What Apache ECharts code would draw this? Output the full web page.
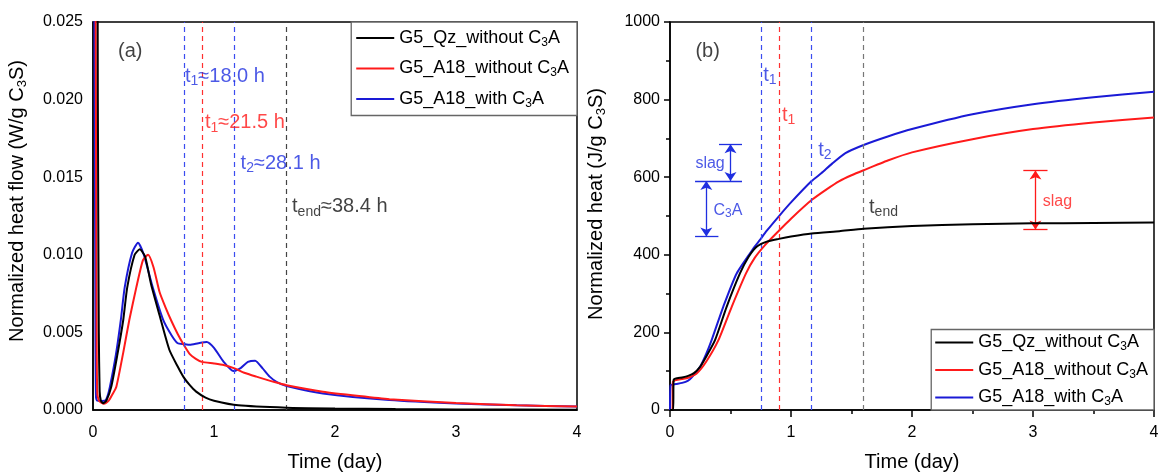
<!DOCTYPE html>
<html><head><meta charset="utf-8">
<script src="https://cdn.jsdelivr.net/npm/echarts@6/dist/echarts.min.js"></script>
<style>html,body{margin:0;padding:0;background:#fff}#c{width:1159px;height:472px}</style>
</head><body><div id="c"></div>
<script>
// ---------------- data ----------------
const seriesNames = ['G5_Qz_without C3A', 'G5_A18_without C3A', 'G5_A18_with C3A'];
const seriesColors = ['#000000', '#ff1a1a', '#1a1ad6'];

// panel (a): normalized heat flow (W/g C3S) vs time (day)
const flowQz = [[0.0,0.06],[0.03,0.05],[0.04,0.02],[0.048,0.005],[0.055,0.0012],[0.065,0.0006],[0.083,0.00043],[0.11,0.0006],[0.151,0.0015],[0.2,0.0035],[0.25,0.0058],[0.283,0.0079],[0.344,0.0100],[0.386,0.01035],[0.43,0.0099],[0.48,0.0081],[0.55,0.0061],[0.63,0.0039],[0.7,0.0028],[0.75,0.0021],[0.8,0.0016],[0.85,0.0012],[0.93,0.0008],[1.0,0.0006],[1.2,0.0003],[1.6,0.00015],[2.0,0.0001],[2.5,0.00006],[3.0,0.00004],[4.0,0.00002]];
const flowA18Without = [[0.0,0.05],[0.022,0.025],[0.03,0.005],[0.035,0.0012],[0.05,0.0006],[0.09,0.0004],[0.13,0.0006],[0.16,0.0010],[0.193,0.0015],[0.25,0.0037],[0.3,0.0058],[0.358,0.0079],[0.413,0.00966],[0.455,0.0100],[0.5,0.0092],[0.55,0.0076],[0.6,0.0066],[0.65,0.0057],[0.7,0.0049],[0.75,0.0042],[0.8,0.0036],[0.85,0.0033],[0.9,0.0031],[1.0,0.0030],[1.08,0.0029],[1.17,0.00268],[1.25,0.0024],[1.35,0.00215],[1.5,0.0018],[1.6,0.0016],[1.9,0.00118],[2.2,0.0009],[2.45,0.0007],[3.0,0.00045],[3.5,0.0003],[4.0,0.00022]];
const flowA18With = [[0.0,0.05],[0.012,0.025],[0.02,0.005],[0.025,0.0008],[0.035,0.0006],[0.07,0.00058],[0.1,0.0006],[0.12,0.0009],[0.14,0.0015],[0.19,0.0036],[0.23,0.0058],[0.262,0.0079],[0.322,0.0101],[0.372,0.01078],[0.42,0.0100],[0.49,0.0080],[0.58,0.0058],[0.65,0.0048],[0.7,0.0043],[0.75,0.00425],[0.8,0.0042],[0.87,0.0043],[0.94,0.00438],[1.0,0.0040],[1.08,0.0031],[1.16,0.00251],[1.22,0.0027],[1.28,0.0031],[1.34,0.00318],[1.4,0.0027],[1.46,0.00215],[1.52,0.0018],[1.6,0.00155],[1.9,0.00107],[2.45,0.00064],[3.0,0.00042],[3.5,0.0003],[4.0,0.00022]];

// panel (b): normalized heat (J/g C3S) vs time (day)
const heatQz = [[0.0,0],[0.026,0],[0.03,78],[0.06,82],[0.1,84],[0.15,88],[0.198,95],[0.25,112],[0.3,138],[0.372,180],[0.468,266],[0.578,352],[0.65,395],[0.716,421],[0.8,434],[0.9,441],[1.0,447],[1.17,455],[1.4,461],[1.6,467],[2.0,474],[2.5,479],[3.0,481],[3.5,482],[4.0,483]];
const heatA18Without = [[0.0,0],[0.02,0],[0.024,73],[0.05,77],[0.1,80],[0.15,83],[0.22,94],[0.3,125],[0.4,180],[0.51,266],[0.628,352],[0.7,392],[0.785,425],[0.9,462],[1.0,493],[1.17,541],[1.3,570],[1.4,590],[1.5,605],[1.6,618],[1.8,643],[2.0,664],[2.5,698],[3.0,724],[3.5,741],[4.0,754]];
const heatA18With = [[0.0,0],[0.005,64],[0.05,67],[0.1,70],[0.15,76],[0.18,84],[0.25,112],[0.3,145],[0.344,180],[0.44,266],[0.551,352],[0.7,421],[0.74,437],[0.8,462],[0.91,503],[1.0,535],[1.17,590],[1.25,610],[1.34,635],[1.45,662],[1.6,683],[1.8,705],[2.0,724],[2.5,762],[3.0,788],[3.5,806],[4.0,820]];

// characteristic times (day): t1 with C3A = 18.0 h, t1 without = 21.5 h, t2 = 28.1 h, tend = 38.4 h
const markTimes = [18.0/24, 21.5/24, 28.1/24, 38.4/24];
const markColorsA = ['#3b4cf0', '#ff3030', '#3b4cf0', '#444444'];
const markColorsB = ['#3b4cf0', '#ff3030', '#3b4cf0', '#777777'];

// tick labels
const xTickLabels = ['0', '1', '2', '3', '4'];
const yTickLabelsA = ['0.000', '0.005', '0.010', '0.015', '0.020', '0.025'];
const yTickLabelsB = ['0', '200', '400', '600', '800', '1000'];

// text annotations: [x (day), y (value), rich text]
const notesA = [
  [0.207, 0.0231, '{k|(a)}'],
  [0.76, 0.0215, '{b|t}{bs|1}{b|≈18.0 h}'],
  [0.925, 0.0185, '{r|t}{rs|1}{r|≈21.5 h}'],
  [1.22, 0.0159, '{b|t}{bs|2}{b|≈28.1 h}'],
  [1.645, 0.0131, '{k|t}{ks|end}{k|≈38.4 h}']
];
const notesB = [
  [0.21, 923, '{k|(b)}'],
  [0.77, 863, '{b|t}{bs|1}'],
  [0.925, 760, '{r|t}{rs|1}'],
  [1.225, 670, '{b|t}{bs|2}'],
  [1.645, 523, '{k|t}{ks|end}'],
  [0.21, 636, '{b2|slag}'],
  [0.36, 515, '{b2|C}{b2s|3}{b2|A}'],
  [3.08, 536, '{r2|slag}']
];
// bracket lines in panel (b): [x1, y1, x2, y2, color, arrows?]
const bracketsB = [
  [0.405, 685, 0.595, 685, 'blue', false],
  [0.207, 590, 0.595, 590, 'blue', false],
  [0.207, 447, 0.40, 447, 'blue', false],
  [0.50, 590, 0.50, 685, 'blue', true],
  [0.30, 447, 0.30, 590, 'blue', true],
  [2.92, 617, 3.12, 617, 'red', false],
  [2.92, 465, 3.12, 465, 'red', false],
  [3.02, 465, 3.02, 617, 'red', true]
];

// ---------------- chart ----------------
const FONT = '"Liberation Sans", Arial, sans-serif';
const chart = echarts.init(document.getElementById('c'), null, {renderer: 'canvas'});

const rich = {
  k: {color: '#111', fontSize: 20, fontFamily: FONT},
  ks: {color: '#111', fontSize: 14, fontFamily: FONT, padding: [10, 0, 0, 0]},
  b: {color: '#1f2fe0', fontSize: 20, fontFamily: FONT},
  bs: {color: '#1f2fe0', fontSize: 14, fontFamily: FONT, padding: [10, 0, 0, 0]},
  r: {color: '#ff1a1a', fontSize: 20, fontFamily: FONT},
  rs: {color: '#ff1a1a', fontSize: 14, fontFamily: FONT, padding: [10, 0, 0, 0]},
  b2: {color: '#1f2fe0', fontSize: 16, fontFamily: FONT},
  b2s: {color: '#1f2fe0', fontSize: 12, fontFamily: FONT, padding: [8, 0, 0, 0]},
  r2: {color: '#ff1a1a', fontSize: 16, fontFamily: FONT}
};
const nameRich = {
  n: {fontSize: 20, fontFamily: FONT, color: '#000'},
  s: {fontSize: 13, fontFamily: FONT, color: '#000', padding: [10, 0, 0, 0]}
};
const legendRich = {
  n: {fontSize: 18, fontFamily: FONT, color: '#000'},
  s: {fontSize: 12, fontFamily: FONT, color: '#000', padding: [9, 0, 0, 0]}
};
function legendFmt(name) {
  return '{n|' + name.replace('C3A', 'C}{s|3}{n|A') + '}';
}

function vLines(colors) {
  return {
    silent: true, symbol: 'none', label: {show: false},
    data: markTimes.map((t, i) => ({xAxis: t, lineStyle: {color: colors[i], type: [5, 4], width: 1.2}}))
  };
}

function noteSeries(notes, xi) {
  return {
    type: 'scatter', xAxisIndex: xi, yAxisIndex: xi, silent: true, symbolSize: 0,
    z: 10,
    data: notes.map(n => ({value: [n[0], n[1]], label: {show: true, position: 'right', distance: 0, formatter: n[2], rich: rich}}))
  };
}

const bracketColor = {blue: '#1f2fe0', red: '#ff1a1a'};
const bracketLines = {
  silent: true, label: {show: false}, symbolSize: [9, 9],
  data: bracketsB.map(b => [
    {coord: [b[0], b[1]], symbol: b[5] ? 'arrow' : 'none', lineStyle: {color: bracketColor[b[4]], width: 1.3, type: 'solid'}},
    {coord: [b[2], b[3]], symbol: b[5] ? 'arrow' : 'none'}
  ])
};

const flowData = [flowQz, flowA18Without, flowA18With];
const heatData = [heatQz, heatA18Without, heatA18With];

const series = [];
flowData.forEach((d, i) => series.push({
  name: seriesNames[i], type: 'line', xAxisIndex: 0, yAxisIndex: 0, data: d,
  symbol: 'none', smooth: 0.2, clip: true,
  lineStyle: {color: seriesColors[i], width: 2}, itemStyle: {color: seriesColors[i]},
  z: 5 - i,
  markLine: i === 0 ? vLines(markColorsA) : undefined
}));
heatData.forEach((d, i) => series.push({
  name: seriesNames[i], type: 'line', xAxisIndex: 1, yAxisIndex: 1, data: d,
  symbol: 'none', smooth: 0.2, clip: true,
  lineStyle: {color: seriesColors[i], width: 2}, itemStyle: {color: seriesColors[i]},
  z: 5 - i,
  markLine: i === 0 ? vLines(markColorsB) : (i === 1 ? bracketLines : undefined)
}));
series.push(noteSeries(notesA, 0));
series.push(noteSeries(notesB, 1));

const axisCommon = {
  axisLine: {onZero: false, lineStyle: {color: '#000', width: 1.5}},
  splitLine: {show: false},
  axisLabel: {color: '#000', fontSize: 16, fontFamily: FONT},
};
const xName = {fontSize: 20, fontFamily: FONT, color: '#000'};

const legendCommon = {
  data: seriesNames, orient: 'vertical', icon: 'rect',
  itemWidth: 38, itemHeight: 2,
  backgroundColor: '#fff', borderColor: '#666', borderWidth: 1.3,
  formatter: legendFmt, textStyle: {rich: legendRich},
  selectedMode: false
};

const option = {
  animation: false,
  backgroundColor: '#fff',
  grid: [
    {left: 93, right: 582, top: 22, bottom: 62, containLabel: false, outerBoundsMode: 'none', show: true, borderColor: '#000', borderWidth: 1.5, backgroundColor: 'transparent'},
    {left: 670, right: 5, top: 22, bottom: 62, containLabel: false, outerBoundsMode: 'none', show: true, borderColor: '#000', borderWidth: 1.5, backgroundColor: 'transparent'}
  ],
  xAxis: [
    Object.assign({}, axisCommon, {
      gridIndex: 0, type: 'value', min: 0, max: 4, interval: 1,
      axisTick: {show: false},
      axisLabel: Object.assign({}, axisCommon.axisLabel, {margin: 15, formatter: v => xTickLabels[Math.round(v)]}),
      name: 'Time (day)', nameLocation: 'middle', nameGap: 42, nameTextStyle: xName
    }),
    Object.assign({}, axisCommon, {
      gridIndex: 1, type: 'value', min: 0, max: 4, interval: 1,
      axisTick: {show: true, length: 7, lineStyle: {color: '#000', width: 1.5}},
      minorTick: {show: true, splitNumber: 2, length: 4, lineStyle: {color: '#000', width: 1.5}},
      axisLabel: Object.assign({}, axisCommon.axisLabel, {margin: 15, formatter: v => xTickLabels[Math.round(v)]}),
      name: 'Time (day)', nameLocation: 'middle', nameGap: 42, nameTextStyle: xName
    })
  ],
  yAxis: [
    Object.assign({}, axisCommon, {
      gridIndex: 0, type: 'value', min: 0, max: 0.025, interval: 0.005,
      axisTick: {show: false},
      axisLabel: Object.assign({}, axisCommon.axisLabel, {margin: 10, formatter: v => yTickLabelsA[Math.round(v / 0.005)]}),
      name: '{n|Normalized heat flow (W/g C}{s|3}{n|S)}', nameLocation: 'middle', nameGap: 64,
      nameTextStyle: {rich: nameRich, padding: [0, 0, 0, 30]}
    }),
    Object.assign({}, axisCommon, {
      gridIndex: 1, type: 'value', min: 0, max: 1000, interval: 200,
      axisTick: {show: true, length: 6, lineStyle: {color: '#000', width: 1.5}},
      minorTick: {show: true, splitNumber: 2, length: 4, lineStyle: {color: '#000', width: 1.5}},
      axisLabel: Object.assign({}, axisCommon.axisLabel, {margin: 10, formatter: v => yTickLabelsB[Math.round(v / 200)]}),
      name: '{n|Normalized heat (J/g C}{s|3}{n|S)}', nameLocation: 'middle', nameGap: 62,
      nameTextStyle: {rich: nameRich, padding: [0, 0, 0, 24]}
    })
  ],
  legend: [
    Object.assign({}, legendCommon, {right: 582, top: 22, itemGap: 11, padding: [7, 8, 6, 5]}),
    Object.assign({}, legendCommon, {right: 5, bottom: 62, itemGap: 8, padding: [4, 6, 2, 4]})
  ],
  series: series
};
chart.setOption(option);
</script>
</body></html>
